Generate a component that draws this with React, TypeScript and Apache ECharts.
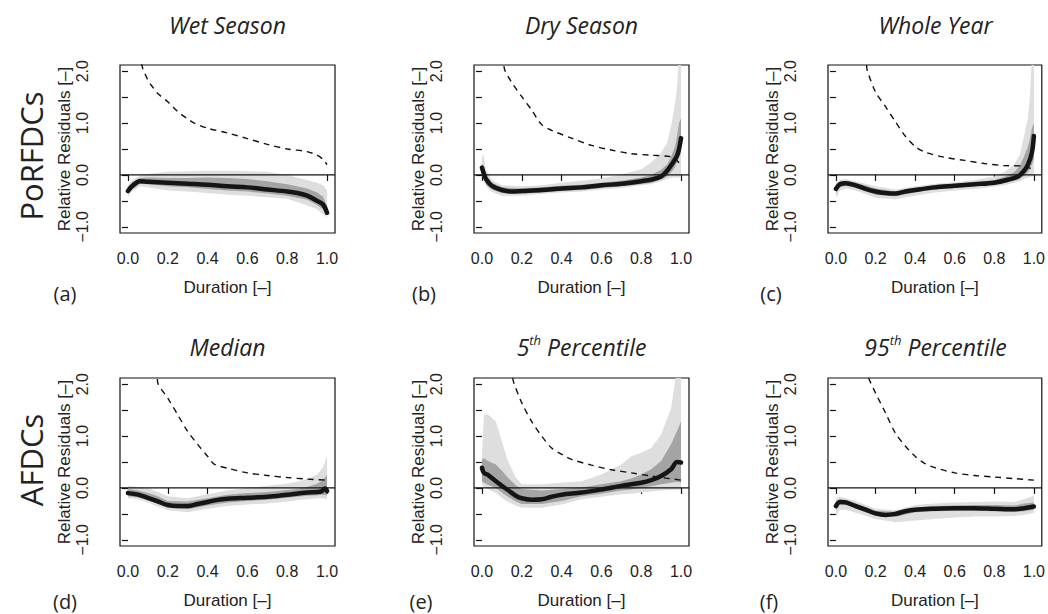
import React, { useEffect, useRef } from 'react';
import * as echarts from 'echarts';

type P = [number, number];

// ---------- texts ----------
const panelTitles = ['Wet Season', 'Dry Season', 'Whole Year', 'Median', '{n|5}{s|th}{n| Percentile}', '{n|95}{s|th}{n| Percentile}'];
const panelLetters = ['(a)', '(b)', '(c)', '(d)', '(e)', '(f)'];
const rowLabels = ['PoRFDCs', 'AFDCs'];
const xTicks = [0, 0.2, 0.4, 0.6, 0.8, 1.0];
const yTicks = [-1, -0.5, 0, 0.5, 1, 1.5, 2];
const yLabelValues = [-1, 0, 1, 2];
const xName = 'Duration [–]';
const yName = 'Relative Residuals [–]';

// ---------- (a) Wet Season ----------
const medA: P[] = [[0, -0.31], [0.02, -0.22], [0.06, -0.12], [0.1, -0.13], [0.2, -0.15], [0.3, -0.17], [0.4, -0.19], [0.5, -0.22], [0.6, -0.24], [0.7, -0.28], [0.8, -0.32], [0.85, -0.35], [0.9, -0.4], [0.95, -0.5], [0.98, -0.57], [1.0, -0.73]];
const bandXA = [0, 0.02, 0.06, 0.1, 0.2, 0.3, 0.4, 0.5, 0.6, 0.7, 0.8, 0.9, 0.95, 0.98, 1.0];
const lightUpA = [-0.2, -0.1, -0.02, 0.02, 0.06, 0.07, 0.08, 0.08, 0.07, 0.06, 0.0, -0.1, -0.15, -0.2, -0.3];
const lightLoA = [-0.42, -0.32, -0.22, -0.24, -0.3, -0.32, -0.35, -0.38, -0.4, -0.43, -0.46, -0.59, -0.66, -0.76, -0.82];
const darkUpA = [-0.25, -0.15, -0.06, -0.05, -0.06, -0.06, -0.05, -0.06, -0.08, -0.12, -0.18, -0.26, -0.34, -0.42, -0.6];
const darkLoA = [-0.36, -0.28, -0.17, -0.18, -0.22, -0.24, -0.27, -0.3, -0.32, -0.36, -0.4, -0.48, -0.58, -0.66, -0.78];
const dashA: P[] = [[0.068, 2.15], [0.075, 2.05], [0.1, 1.83], [0.117, 1.73], [0.15, 1.57], [0.2, 1.41], [0.25, 1.22], [0.3, 1.08], [0.333, 1.0], [0.4, 0.9], [0.5, 0.81], [0.6, 0.7], [0.7, 0.59], [0.8, 0.5], [0.9, 0.45], [0.95, 0.38], [0.98, 0.3], [1.0, 0.2]];

// ---------- (b) Dry Season ----------
const medB: P[] = [[0, 0.14], [0.01, 0.02], [0.02, -0.08], [0.05, -0.21], [0.1, -0.29], [0.15, -0.32], [0.2, -0.31], [0.3, -0.29], [0.4, -0.26], [0.5, -0.24], [0.6, -0.2], [0.7, -0.17], [0.8, -0.12], [0.85, -0.09], [0.9, -0.03], [0.93, 0.08], [0.96, 0.24], [0.98, 0.37], [0.99, 0.5], [1.0, 0.71]];
const bandXB = [0, 0.005, 0.01, 0.02, 0.05, 0.1, 0.2, 0.3, 0.4, 0.5, 0.6, 0.7, 0.8, 0.85, 0.9, 0.93, 0.95, 0.97, 0.98, 0.99, 1.0];
const lightUpB = [0.3, 0.4, 0.35, 0.1, -0.1, -0.2, -0.22, -0.2, -0.15, -0.11, -0.07, 0.01, 0.11, 0.24, 0.43, 0.62, 0.94, 1.38, 1.7, 2.3, 2.3];
const lightLoB = [0.0, -0.05, -0.12, -0.22, -0.33, -0.4, -0.4, -0.37, -0.34, -0.32, -0.28, -0.25, -0.2, -0.18, -0.12, -0.08, -0.06, -0.05, -0.05, -0.05, -0.05];
const darkUpB = [0.2, 0.2, 0.1, 0.0, -0.15, -0.24, -0.26, -0.24, -0.21, -0.19, -0.15, -0.11, -0.05, 0.0, 0.1, 0.2, 0.35, 0.55, 0.75, 1.0, 1.1];
const darkLoB = [0.05, -0.02, -0.1, -0.18, -0.28, -0.35, -0.36, -0.34, -0.31, -0.29, -0.25, -0.22, -0.18, -0.15, -0.09, -0.03, 0.05, 0.15, 0.25, 0.35, 0.45];
const dashB: P[] = [[0.11, 2.1], [0.117, 2.0], [0.15, 1.78], [0.2, 1.51], [0.25, 1.25], [0.3, 0.97], [0.35, 0.86], [0.45, 0.71], [0.55, 0.57], [0.65, 0.48], [0.75, 0.41], [0.85, 0.38], [0.95, 0.35], [0.98, 0.28], [1.0, 0.17]];

// ---------- (c) Whole Year ----------
const medC: P[] = [[0, -0.27], [0.02, -0.18], [0.05, -0.16], [0.1, -0.2], [0.15, -0.27], [0.2, -0.32], [0.25, -0.35], [0.3, -0.36], [0.35, -0.32], [0.4, -0.29], [0.5, -0.24], [0.6, -0.21], [0.7, -0.18], [0.8, -0.15], [0.88, -0.08], [0.92, -0.03], [0.95, 0.08], [0.97, 0.2], [0.99, 0.43], [1.0, 0.75]];
const bandXC = [0, 0.02, 0.05, 0.1, 0.2, 0.3, 0.4, 0.5, 0.6, 0.7, 0.8, 0.85, 0.9, 0.93, 0.95, 0.97, 0.98, 0.99, 1.0];
const lightUpC = [-0.15, -0.1, -0.08, -0.12, -0.22, -0.28, -0.22, -0.17, -0.14, -0.1, -0.03, 0.05, 0.2, 0.4, 0.75, 1.1, 1.5, 2.3, 2.3];
const lightLoC = [-0.45, -0.3, -0.26, -0.3, -0.44, -0.47, -0.4, -0.34, -0.3, -0.27, -0.23, -0.2, -0.15, -0.12, -0.08, -0.05, -0.04, -0.03, -0.03];
const darkUpC = [-0.2, -0.13, -0.11, -0.15, -0.26, -0.32, -0.25, -0.2, -0.17, -0.14, -0.1, -0.04, 0.05, 0.18, 0.35, 0.55, 0.7, 0.9, 1.0];
const darkLoC = [-0.35, -0.24, -0.21, -0.25, -0.38, -0.41, -0.34, -0.28, -0.25, -0.22, -0.19, -0.16, -0.11, -0.07, -0.02, 0.05, 0.12, 0.2, 0.3];
const dashC: P[] = [[0.155, 2.12], [0.158, 2.02], [0.2, 1.6], [0.25, 1.32], [0.3, 1.03], [0.35, 0.75], [0.4, 0.55], [0.45, 0.44], [0.55, 0.34], [0.65, 0.28], [0.75, 0.22], [0.85, 0.18], [0.95, 0.17], [0.98, 0.13], [1.0, 0.08]];

// ---------- (d) Median ----------
const medD: P[] = [[0, -0.1], [0.05, -0.13], [0.1, -0.19], [0.15, -0.26], [0.2, -0.33], [0.25, -0.35], [0.3, -0.35], [0.35, -0.31], [0.4, -0.27], [0.45, -0.23], [0.5, -0.21], [0.6, -0.19], [0.7, -0.17], [0.8, -0.13], [0.9, -0.09], [0.97, -0.07], [0.99, -0.01], [1.0, -0.06]];
const bandXD = [0, 0.05, 0.1, 0.15, 0.2, 0.3, 0.4, 0.5, 0.6, 0.7, 0.8, 0.85, 0.9, 0.95, 0.98, 1.0];
const lightUpD = [0.04, 0.02, 0.0, -0.08, -0.16, -0.2, -0.12, -0.05, 0.0, 0.04, 0.08, 0.12, 0.17, 0.26, 0.4, 0.62];
const lightLoD = [-0.2, -0.22, -0.28, -0.36, -0.43, -0.47, -0.4, -0.35, -0.32, -0.3, -0.26, -0.24, -0.22, -0.2, -0.2, -0.22];
const darkUpD = [-0.02, -0.05, -0.1, -0.16, -0.25, -0.26, -0.2, -0.13, -0.1, -0.08, -0.04, -0.02, 0.02, 0.08, 0.15, 0.25];
const darkLoD = [-0.16, -0.18, -0.24, -0.31, -0.38, -0.41, -0.34, -0.28, -0.25, -0.23, -0.19, -0.17, -0.15, -0.14, -0.13, -0.14];
const dashD: P[] = [[0.148, 2.1], [0.15, 2.02], [0.2, 1.73], [0.25, 1.41], [0.3, 1.09], [0.35, 0.84], [0.4, 0.61], [0.433, 0.46], [0.5, 0.38], [0.6, 0.29], [0.7, 0.24], [0.8, 0.2], [0.9, 0.17], [1.0, 0.15]];

// ---------- (e) 5th Percentile ----------
const medE: P[] = [[0, 0.39], [0.01, 0.29], [0.03, 0.25], [0.05, 0.19], [0.08, 0.1], [0.1, 0.04], [0.13, -0.04], [0.17, -0.15], [0.2, -0.2], [0.25, -0.23], [0.3, -0.22], [0.35, -0.17], [0.4, -0.13], [0.5, -0.09], [0.6, -0.03], [0.7, 0.04], [0.8, 0.1], [0.85, 0.15], [0.9, 0.23], [0.95, 0.36], [0.98, 0.5], [1.0, 0.49]];
const bandXE = [0, 0.01, 0.03, 0.07, 0.1, 0.13, 0.17, 0.2, 0.3, 0.4, 0.5, 0.6, 0.7, 0.75, 0.8, 0.85, 0.9, 0.95, 0.98, 1.0];
const lightUpE = [0.6, 1.41, 1.42, 1.28, 0.9, 0.52, 0.2, 0.07, 0.07, 0.1, 0.13, 0.26, 0.45, 0.61, 0.68, 0.77, 1.03, 1.54, 2.3, 2.3];
const lightLoE = [0.07, 0.02, -0.02, -0.1, -0.19, -0.27, -0.34, -0.38, -0.38, -0.32, -0.22, -0.17, -0.12, -0.11, -0.09, -0.07, -0.05, -0.04, -0.03, -0.03];
const darkUpE = [0.55, 0.57, 0.52, 0.45, 0.33, 0.2, 0.05, -0.02, -0.05, -0.02, 0.01, 0.07, 0.13, 0.18, 0.26, 0.36, 0.52, 0.84, 1.1, 1.28];
const darkLoE = [0.13, 0.1, 0.06, 0.0, -0.09, -0.17, -0.26, -0.31, -0.31, -0.25, -0.16, -0.11, -0.05, -0.03, 0.0, 0.03, 0.07, 0.1, 0.12, 0.1];
const dashE: P[] = [[0.155, 2.12], [0.158, 2.05], [0.2, 1.64], [0.25, 1.28], [0.3, 1.0], [0.35, 0.77], [0.4, 0.65], [0.45, 0.55], [0.55, 0.44], [0.65, 0.35], [0.75, 0.29], [0.85, 0.23], [1.0, 0.15]];

// ---------- (f) 95th Percentile ----------
const medF: P[] = [[0, -0.35], [0.02, -0.27], [0.05, -0.28], [0.1, -0.35], [0.15, -0.42], [0.2, -0.49], [0.25, -0.52], [0.3, -0.5], [0.35, -0.45], [0.4, -0.42], [0.5, -0.4], [0.6, -0.39], [0.7, -0.39], [0.8, -0.4], [0.9, -0.41], [0.95, -0.39], [1.0, -0.36]];
const bandXF = [0, 0.02, 0.05, 0.1, 0.2, 0.3, 0.4, 0.5, 0.6, 0.7, 0.8, 0.9, 0.95, 1.0];
const lightUpF = [-0.2, -0.17, -0.2, -0.25, -0.4, -0.43, -0.33, -0.3, -0.28, -0.27, -0.26, -0.27, -0.22, -0.15];
const lightLoF = [-0.55, -0.42, -0.42, -0.48, -0.6, -0.66, -0.63, -0.6, -0.57, -0.55, -0.55, -0.54, -0.52, -0.48];
const darkUpF = [-0.28, -0.22, -0.23, -0.3, -0.44, -0.46, -0.38, -0.35, -0.34, -0.33, -0.33, -0.34, -0.3, -0.28];
const darkLoF = [-0.42, -0.32, -0.33, -0.4, -0.54, -0.56, -0.47, -0.45, -0.44, -0.44, -0.45, -0.46, -0.45, -0.42];
const dashF: P[] = [[0.165, 2.12], [0.167, 2.1], [0.2, 1.83], [0.25, 1.45], [0.3, 1.06], [0.35, 0.81], [0.4, 0.61], [0.45, 0.47], [0.5, 0.39], [0.6, 0.29], [0.7, 0.24], [0.8, 0.21], [0.9, 0.18], [1.0, 0.15]];

const medians = [medA, medB, medC, medD, medE, medF];
const dashes = [dashA, dashB, dashC, dashD, dashE, dashF];
const bandXs = [bandXA, bandXB, bandXC, bandXD, bandXE, bandXF];
const lightUps = [lightUpA, lightUpB, lightUpC, lightUpD, lightUpE, lightUpF];
const lightLos = [lightLoA, lightLoB, lightLoC, lightLoD, lightLoE, lightLoF];
const darkUps = [darkUpA, darkUpB, darkUpC, darkUpD, darkUpE, darkUpF];
const darkLos = [darkLoA, darkLoB, darkLoC, darkLoD, darkLoE, darkLoF];

// ---------- layout ----------
const gridLefts = [120, 474, 828];
const gridTops = [65, 378];
const gridW = 215;
const gridH = 168;
const letterPos: P[] = [[65, 293], [424, 293], [771, 293], [65, 601], [421, 601], [769, 601]];
const titleYs = [25, 347];
const rowLabelPos: P[] = [[31, 156], [31, 460]];

const AX_FONT = 'Liberation Sans, Arial, sans-serif';
const TXT_FONT = 'Open Sans, Noto Sans, sans-serif';
const LIGHT = '#dedede';
const DARK = '#a4a4a4';

function bandSeries(i: number, xs: number[], up: number[], lo: number[], color: string) {
  return {
    type: 'custom',
    xAxisIndex: i,
    yAxisIndex: i,
    clip: true,
    silent: true,
    data: [[0, 0]],
    renderItem: (_p: any, api: any) => {
      const top = xs.map((x, k) => api.coord([x, up[k]]));
      const bot = xs.map((x, k) => api.coord([x, lo[k]])).reverse();
      return {
        type: 'polygon',
        shape: { points: top.concat(bot), smooth: 0 },
        style: { fill: color, stroke: 'none' },
      };
    },
  };
}

function buildOption() {
  const grid: any[] = [];
  const xAxis: any[] = [];
  const yAxis: any[] = [];
  const series: any[] = [];
  const graphic: any[] = [];

  for (let i = 0; i < 6; i++) {
    const col = i % 3;
    const row = Math.floor(i / 3);
    grid.push({
      left: gridLefts[col], top: gridTops[row], width: gridW, height: gridH,
      show: true, borderColor: '#111', borderWidth: 1.2, backgroundColor: 'transparent',
    });
    xAxis.push({
      type: 'value', gridIndex: i, min: -0.04, max: 1.04,
      splitLine: { show: false },
      axisLine: { show: false },
      axisTick: { show: true, customValues: xTicks, length: 6, inside: false, lineStyle: { color: '#111', width: 1.2 } },
      axisLabel: {
        customValues: xTicks, margin: 17, fontSize: 16, color: '#222', fontFamily: AX_FONT,
        formatter: (v: number) => v.toFixed(1),
      },
      name: xName, nameLocation: 'middle', nameGap: 46,
      nameTextStyle: { fontSize: 17, color: '#222', fontFamily: AX_FONT },
    });
    yAxis.push({
      type: 'value', gridIndex: i, min: -1.12, max: 2.12,
      splitLine: { show: false },
      axisLine: { show: false },
      axisTick: { show: true, customValues: yTicks, length: 6, inside: false, lineStyle: { color: '#111', width: 1.2 } },
      axisLabel: {
        customValues: yLabelValues, rotate: 90, margin: 30, fontSize: 16, color: '#222', fontFamily: AX_FONT,
        formatter: (v: number) => v.toFixed(1).replace('-', '\u2212'),
      },
      name: yName, nameLocation: 'middle', nameRotate: 90, nameGap: 46,
      nameTextStyle: { fontSize: 17, color: '#222', fontFamily: AX_FONT },
    });

    series.push(bandSeries(i, bandXs[i], lightUps[i], lightLos[i], LIGHT));
    series.push(bandSeries(i, bandXs[i], darkUps[i], darkLos[i], DARK));
    series.push({
      type: 'line', xAxisIndex: i, yAxisIndex: i, symbol: 'none', silent: true,
      data: [[-0.04, 0], [1.04, 0]],
      lineStyle: { color: '#111', width: 1.2 },
    });
    series.push({
      type: 'line', xAxisIndex: i, yAxisIndex: i, symbol: 'none', silent: true, clip: true,
      data: dashes[i], smooth: 0.3,
      lineStyle: { color: '#111', width: 1.4, type: [6, 5] },
    });
    series.push({
      type: 'line', xAxisIndex: i, yAxisIndex: i, symbol: 'none', silent: true, clip: true,
      data: medians[i], smooth: 0.35,
      lineStyle: { color: '#151515', width: 4.5, cap: 'round', join: 'round' },
    });

    graphic.push({
      type: 'text', x: gridLefts[col] + gridW / 2, y: titleYs[row], silent: true,
      style: {
        text: panelTitles[i], align: 'center', verticalAlign: 'middle',
        fontSize: 23, fontStyle: 'italic', fontFamily: TXT_FONT, fill: '#222',
        rich: {
          n: { fontSize: 23, fontStyle: 'italic', fontFamily: TXT_FONT, fill: '#222', lineHeight: 28 },
          s: { fontSize: 13, fontStyle: 'italic', fontFamily: TXT_FONT, fill: '#222', verticalAlign: 'top', lineHeight: 15 },
        },
      },
    });
    graphic.push({
      type: 'text', x: letterPos[i][0], y: letterPos[i][1], silent: true,
      style: { text: panelLetters[i], align: 'center', verticalAlign: 'middle', fontSize: 20, fontFamily: TXT_FONT, fill: '#222' },
    });
  }
  for (let r = 0; r < 2; r++) {
    graphic.push({
      type: 'text', x: rowLabelPos[r][0], y: rowLabelPos[r][1], rotation: Math.PI / 2, silent: true,
      style: { text: rowLabels[r], align: 'center', verticalAlign: 'middle', fontSize: 31, fontFamily: TXT_FONT, fill: '#222' },
    });
  }

  return { animation: false, backgroundColor: '#fff', grid, xAxis, yAxis, series, graphic };
}

export default function App() {
  const ref = useRef<HTMLDivElement>(null);
  useEffect(() => {
    if (!ref.current) return;
    const chart = echarts.init(ref.current, undefined, { renderer: 'svg' });
    chart.setOption(buildOption() as any);
    return () => chart.dispose();
  }, []);
  return <div ref={ref} style={{ position: 'fixed', left: 0, top: 0, width: 1048, height: 614 }} />;
}
